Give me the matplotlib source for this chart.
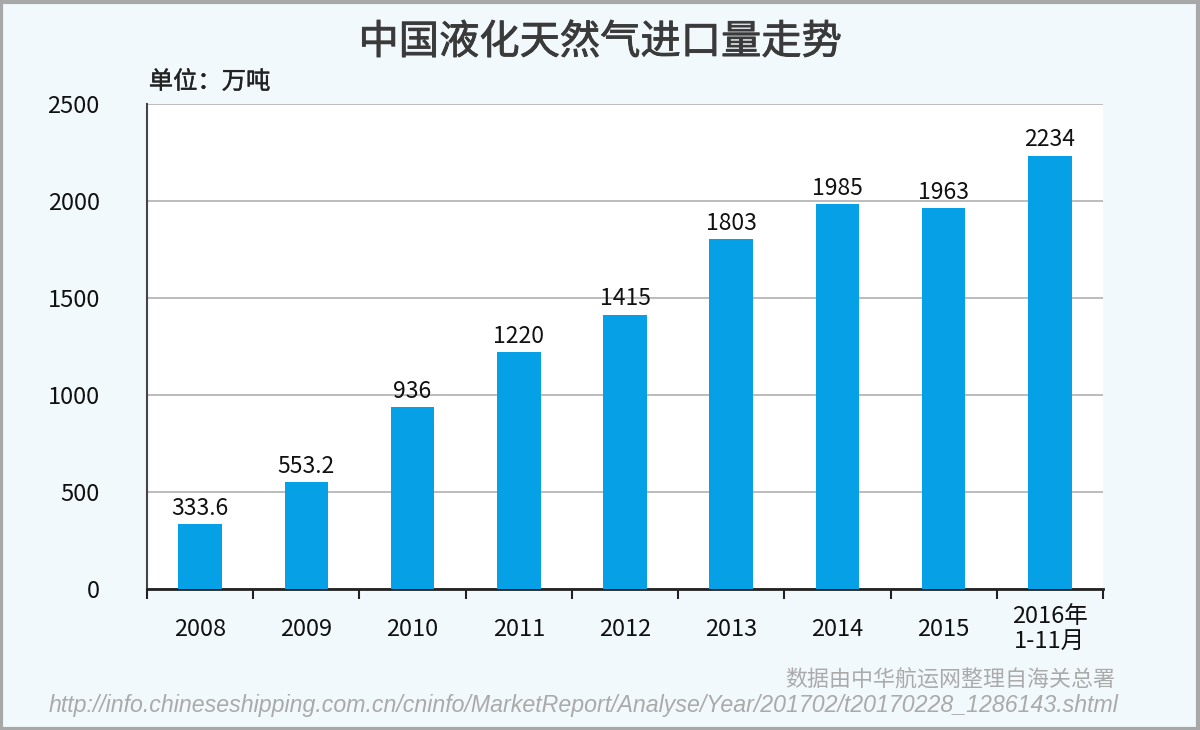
import matplotlib
matplotlib.use("Agg")
import matplotlib.pyplot as plt
import matplotlib.patheffects as pe
from matplotlib.patches import Rectangle

plt.rcParams['font.family'] = ['Noto Sans CJK SC', 'DejaVu Sans']

years = ['2008', '2009', '2010', '2011', '2012', '2013', '2014', '2015', '2016年\n1-11月']
imports = [333.6, 553.2, 936, 1220, 1415, 1803, 1985, 1963, 2234]
value_labels = ['333.6', '553.2', '936', '1220', '1415', '1803', '1985', '1963', '2234']

bg = '#f2f9fd'
fig = plt.figure(figsize=(12, 7.3), dpi=100, facecolor=bg)
ax = fig.add_axes([0.1225, 0.193, 0.7967, 0.6645])
ax.set_facecolor('white')

x = list(range(len(years)))
bars = ax.bar(x, imports, width=0.41, color='#05a0e6', zorder=3)
for xi, v, lab in zip(x, imports, value_labels):
    ax.text(xi, v + 22, lab, ha='center', va='bottom', fontsize=16.5, color='#111111', zorder=4)

ax.set_xlim(-0.5, len(years) - 0.5)
ax.set_ylim(0, 2500)
ax.set_yticks(range(0, 2501, 500))
ax.tick_params(axis='y', length=0, labelsize=17, pad=34, labelcolor='#111111')
ax.yaxis.grid(True, color='#b0b0b0', linewidth=1.2, zorder=0)

ax.set_xticks(x)
ax.set_xticklabels(years, fontsize=17, color='#111111', linespacing=1.1)
for lbl in ax.get_xticklabels():
    lbl.set_va('center')
ax.tick_params(axis='x', length=0, pad=29)
ax.set_xticks([i - 0.5 for i in range(len(years) + 1)], minor=True)
ax.tick_params(axis='x', which='minor', length=7, width=1.5, color='#222222', direction='out')

for s in ['top', 'right']:
    ax.spines[s].set_visible(False)
ax.spines['left'].set_color('#444444')
ax.spines['left'].set_linewidth(1.5)
ax.spines['bottom'].set_color('#222222')
ax.spines['bottom'].set_linewidth(2)

title_color = '#3a3a3a'
fig.text(0.5, 0.942, '中国液化天然气进口量走势', ha='center', va='center',
         fontsize=29, color=title_color,
         path_effects=[pe.Stroke(linewidth=0.6, foreground=title_color), pe.Normal()])
fig.text(0.124, 0.888, '单位：万吨', ha='left', va='center', fontsize=17.5, color='#222222',
         path_effects=[pe.Stroke(linewidth=0.3, foreground='#222222'), pe.Normal()])
fig.text(0.929, 0.067, '数据由中华航运网整理自海关总署', ha='right', va='center',
         fontsize=15.8, color='#aaaaaa')
fig.text(0.932, 0.033, 'http://info.chineseshipping.com.cn/cninfo/MarketReport/Analyse/Year/201702/t20170228_1286143.shtml',
         ha='right', va='center', fontsize=16.7, color='#aaaaaa', style='italic',
         family=['Liberation Sans', 'DejaVu Sans'])

fig.patches.append(Rectangle((0.001, 0.002), 0.997, 0.995, transform=fig.transFigure,
                             fill=False, edgecolor='#a8a8a8', linewidth=3))

fig.savefig('out.png', dpi=100, facecolor=bg)
